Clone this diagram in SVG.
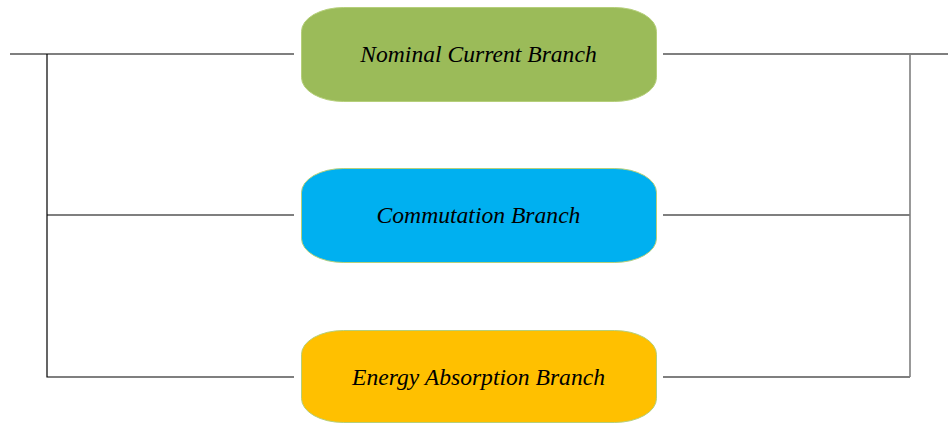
<svg xmlns="http://www.w3.org/2000/svg" width="948" height="423" viewBox="0 0 948 423">
  <style>
    .wire { stroke: #000; stroke-width: 1.2; fill: none; }
    .rail { stroke: #7f7f7f; stroke-width: 1.6; fill: none; }
    .box { stroke: #b5cf7a; stroke-width: 1; }
    .lbl { font-family: "Liberation Serif", "Times New Roman", serif; font-style: italic; font-size: 23.6px; fill: #000; text-anchor: middle; }
  </style>
  <rect width="948" height="423" fill="#fff"/>
  <g id="connectors">
    <path class="wire" d="M10,54 H294"/>
    <path class="wire" d="M47,54 V377 H294"/>
    <path class="wire" d="M47,215 H294"/>
    <path class="wire" d="M663,54 H948"/>
    <path class="wire" d="M663,215 H910"/>
    <path class="wire" d="M663,377 H910"/>
    <path class="rail" d="M910,54 V377"/>
  </g>
  <g id="nominal">
    <rect class="box" x="301.5" y="7.5" width="355" height="94" rx="42" ry="24" fill="#9bbb59"/>
    <text class="lbl" x="478.5" y="62">Nominal Current Branch</text>
  </g>
  <g id="commutation">
    <rect class="box" x="301.5" y="168.5" width="355" height="94" rx="42" ry="24" fill="#00b0f0"/>
    <text class="lbl" x="478.5" y="223">Commutation Branch</text>
  </g>
  <g id="absorption">
    <rect class="box" x="301.5" y="330.5" width="355" height="92" rx="42" ry="24" fill="#ffc000"/>
    <text class="lbl" x="478.5" y="385">Energy Absorption Branch</text>
  </g>
</svg>
